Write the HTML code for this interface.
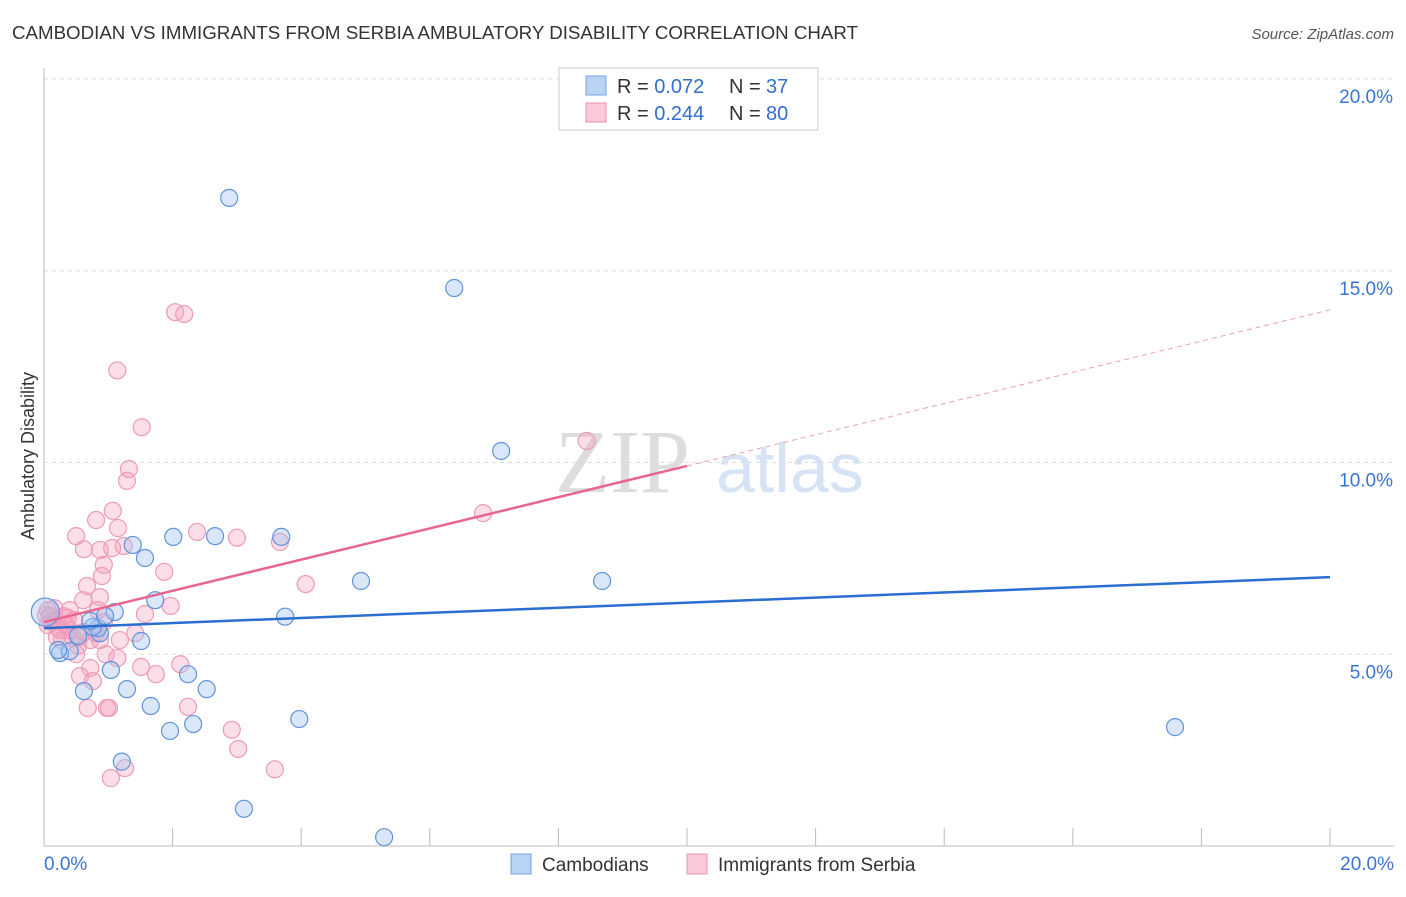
<!DOCTYPE html>
<html><head><meta charset="utf-8"><style>
body{margin:0;background:#fff;font-family:"Liberation Sans",sans-serif}
#c{position:relative;width:1406px;height:892px}
</style></head><body>
<div id="c">
<svg id="s" width="1406" height="892">
<text x="12" y="39" font-size="18" fill="#333" textLength="846" lengthAdjust="spacingAndGlyphs">CAMBODIAN VS IMMIGRANTS FROM SERBIA AMBULATORY DISABILITY CORRELATION CHART</text>
<text x="1394" y="39" font-size="15" fill="#555" font-style="italic" text-anchor="end">Source: ZipAtlas.com</text>
<text x="34" y="456" font-size="18" fill="#333" text-anchor="middle" transform="rotate(-90 34 456)">Ambulatory Disability</text>
<text x="555" y="492" font-size="90" fill="#ddd" font-family="Liberation Serif,serif">ZIP</text>
<text x="716" y="492" font-size="70" fill="#d5e3f5">atlas</text>
<g id="grid"></g><g id="pts"></g><g id="lines"></g>
<g>
<rect x="559" y="68" width="259" height="62" fill="#fff" stroke="#ccc"/>
<rect x="586" y="76" width="20" height="19" fill="#b9d3f5" stroke="#6f9fe0"/>
<rect x="586" y="103" width="20" height="19" fill="#fbc9d8" stroke="#ec92ae"/>
<text x="617" y="93" font-size="20" fill="#333">R = <tspan fill="#2f6fd0">0.072</tspan><tspan x="729">N = </tspan><tspan x="766" fill="#2f6fd0">37</tspan></text>
<text x="617" y="120" font-size="20" fill="#333">R = <tspan fill="#2f6fd0">0.244</tspan><tspan x="729">N = </tspan><tspan x="766" fill="#2f6fd0">80</tspan></text>
</g>
<g>
<rect x="511" y="854" width="20" height="20" fill="#b9d3f5" stroke="#6f9fe0"/>
<text x="542" y="871" font-size="19" fill="#333">Cambodians</text>
<rect x="687" y="854" width="20" height="20" fill="#fbc9d8" stroke="#ec92ae"/>
<text x="718" y="871" font-size="19" fill="#333">Immigrants from Serbia</text>
</g>
</svg></div>
<script>
const yTicks=[5,10,15,20];
const xTickLabels=["0.0%","20.0%"];
const blueX=[2.88,6.38,7.11,1.38,2.01,2.66,3.69,1.57,4.93,8.68,1.73,1.10,3.75,1.51,0.87,0.25,0.40,1.04,2.24,0.62,1.29,2.53,1.66,3.97,1.96,2.32,17.59,1.21,3.11,5.29,0.02,0.84,0.22,0.76,0.53,0.72,0.95];
const blueY=[16.9,14.55,10.3,7.85,8.06,8.08,8.06,7.51,6.91,6.91,6.41,6.10,5.98,5.345,5.55,5.03,5.08,4.59,4.48,4.04,4.09,4.09,3.65,3.31,3.0,3.18,3.1,2.2,0.97,0.23,6.1,5.68,5.11,5.71,5.48,5.87,6.0];
const pinkX=[2.04,2.18,1.14,1.52,8.44,1.32,1.29,1.07,0.81,1.15,0.50,2.38,3.0,3.67,0.62,0.87,1.06,1.24,0.93,0.90,1.87,4.07,0.67,0.61,0.87,0.40,0.84,1.57,1.97,0.93,0.37,0.19,0.09,0.03,0.06,0.25,0.44,0.72,0.28,0.53,1.42,1.14,1.51,1.74,2.12,0.72,0.56,0.76,0.68,0.98,1.01,2.24,2.92,3.02,1.26,1.04,3.59,6.83,0.34,0.62,1.18,0.16,0.22,0.50,0.96,0.06,0.12,0.87,0.81,0.56,0.31,0.40,0.47,0.20];
const pinkY=[13.92,13.87,12.4,10.92,10.56,9.83,9.52,8.74,8.5,8.29,8.08,8.19,8.04,7.93,7.74,7.72,7.77,7.82,7.33,7.04,7.15,6.83,6.78,6.41,6.49,6.15,6.15,6.05,6.26,5.84,5.95,5.89,5.99,6.02,5.76,5.63,5.45,5.37,5.37,5.22,5.55,4.9,4.67,4.48,4.74,4.64,4.43,4.3,3.6,3.6,3.6,3.63,3.03,2.53,2.03,1.77,2.0,8.68,5.77,5.58,5.37,6.2,5.69,5.0,5.0,6.15,5.84,5.37,5.55,5.45,5.99,5.63,5.89,5.45];
const trendIntercept=[5.68,5.84];
const trendSlope=[0.0665,0.407];
const X0=44,X1=1330,Y0=846,PY=38.35;
const sx=v=>X0+(v/20)*(X1-X0), sy=v=>Y0-v*PY;
const NS="http://www.w3.org/2000/svg";
function mk(t,a,p){const e=document.createElementNS(NS,t);for(const k in a)e.setAttribute(k,a[k]);p.appendChild(e);return e;}
const grid=document.getElementById('grid');
yTicks.forEach(t=>{
 const l=mk('line',{x1:X0,x2:1394,y1:sy(t),y2:sy(t),stroke:'#ddd','stroke-dasharray':'4,4'},grid);
 
 
 const tx=mk('text',{x:1393,y:sy(t)+24,'font-size':19,fill:'#3a74d4','text-anchor':'end'},grid);
 tx.textContent=t.toFixed(1)+'%';
 
 
});
const ax=mk('line',{x1:X0,x2:X0,y1:68,y2:Y0,stroke:'#bbb'},grid);


const bx=mk('line',{x1:X0,x2:1394,y1:Y0,y2:Y0,stroke:'#bbb'},grid);


for(let i=0;i<=10;i++){const t=mk('line',{x1:sx(i*2),x2:sx(i*2),y1:Y0,y2:Y0-18,stroke:'#bbb'},grid);
 
 }
[[0,'start',44],[20,'end',1394]].forEach((d,i)=>{const t=mk('text',{x:d[2],y:870,'font-size':19,fill:'#3a74d4','text-anchor':d[1]},grid);t.textContent=xTickLabels[i];
 
 });
const pts=document.getElementById('pts');
pinkX.forEach((x,i)=>{const c=mk('circle',{cx:sx(x),cy:sy(pinkY[i]),r:8.5,fill:'rgba(244,160,188,0.35)',stroke:'#ef9ab6','stroke-width':1.2},pts);
 
 });
blueX.forEach((x,i)=>{const c=mk('circle',{cx:sx(x),cy:sy(blueY[i]),r:i==30?14:8.5,fill:'rgba(160,195,240,0.4)',stroke:'#5f93dc','stroke-width':1.2},pts);
 
 });
const lines=document.getElementById('lines');
const f=(k,x)=>trendIntercept[k]+trendSlope[k]*x;
const b=mk('line',{x1:sx(0),y1:sy(f(0,0)),x2:sx(20),y2:sy(f(0,20)),stroke:'#2a6ed0','stroke-width':2.5},lines);


const p=mk('line',{x1:sx(0),y1:sy(f(1,0)),x2:sx(10),y2:sy(f(1,10)),stroke:'#e8658e','stroke-width':2.5},lines);


const pd=mk('line',{x1:sx(10),y1:sy(f(1,10)),x2:sx(20),y2:sy(f(1,20)),stroke:'#e8a0b8','stroke-width':1,'stroke-dasharray':'5,4'},lines);


</script>
</body></html>
